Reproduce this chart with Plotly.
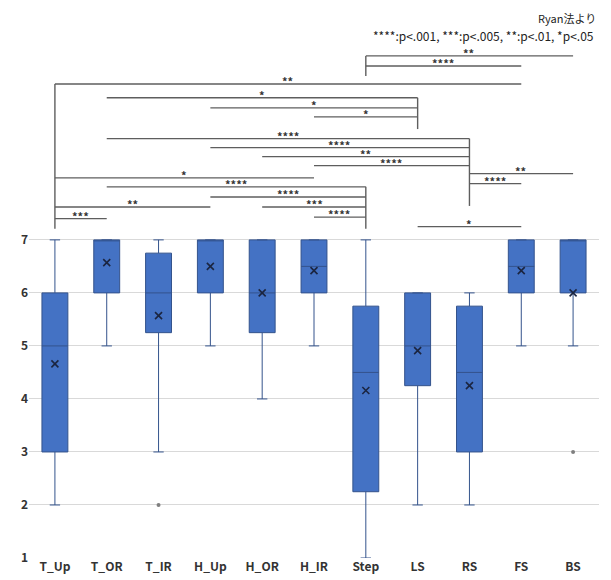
import plotly.graph_objects as go

categories = ["T_Up", "T_OR", "T_IR", "H_Up", "H_OR", "H_IR", "Step", "LS", "RS", "FS", "BS"]
q1 = [3, 6, 5.25, 6, 5.25, 6, 2.25, 4.25, 3, 6, 6]
median = [5, 7, 6, 7, 6, 6.5, 4.5, 5, 4.5, 6.5, 7]
q3 = [6, 7, 6.75, 7, 7, 7, 5.75, 6, 5.75, 7, 7]
lower = [2, 5, 3, 5, 4, 5, 1, 2, 2, 5, 5]
upper = [7, 7, 7, 7, 7, 7, 7, 6, 6, 7, 7]
mean = [4.66, 6.57, 5.57, 6.5, 6.0, 6.42, 4.16, 4.91, 4.25, 6.42, 6.0]
outlier_cat = ["T_IR", "BS"]
outlier_val = [2, 3]

# significance brackets (pairs, level in y units, label)
br_from = ["Step", "Step", "T_Up", "T_OR", "H_Up", "H_IR", "T_OR", "H_Up", "H_OR", "H_IR",
           "RS", "T_Up", "RS", "T_OR", "H_Up", "T_Up", "H_OR", "H_IR", "T_Up", "LS"]
br_to = ["BS", "FS", "FS", "LS", "LS", "LS", "RS", "RS", "RS", "RS",
         "BS", "H_IR", "FS", "Step", "Step", "H_Up", "Step", "Step", "T_OR", "FS"]
br_level = [10.47, 10.28, 9.94, 9.68, 9.49, 9.32, 8.91, 8.74, 8.57, 8.40,
            8.25, 8.17, 8.06, 8.00, 7.81, 7.62, 7.62, 7.43, 7.40, 7.25]
br_label = ["**", "****", "**", "*", "*", "*", "****", "****", "**", "****",
            "**", "*", "****", "****", "****", "**", "***", "****", "***", "*"]
stem_cat = ["T_Up", "Step", "LS", "RS", "Step"]
stem_top = [9.94, 10.47, 9.68, 8.91, 8.00]
stem_bottom = [7.21, 10.09, 9.09, 7.64, 7.21]

legend_lines = ["Ryan法より", "****:p<.001, ***:p<.005, **:p<.01, *p<.05"]

FONT = "Noto Sans CJK JP"
idx = {c: i for i, c in enumerate(categories)}

fig = go.Figure()

fig.add_trace(go.Box(
    x=categories, q1=q1, median=median, q3=q3,
    lowerfence=lower, upperfence=upper,
    boxpoints=False, width=0.5, whiskerwidth=0.4,
    fillcolor="#4472C4", line=dict(color="#34538C", width=1),
    hoverinfo="skip", showlegend=False,
))

fig.add_trace(go.Scatter(
    x=categories, y=mean, mode="markers",
    marker=dict(symbol="x-thin", size=7, line=dict(color="#1B2540", width=1.6)),
    showlegend=False, hoverinfo="skip",
))

fig.add_trace(go.Scatter(
    x=outlier_cat, y=outlier_val, mode="markers",
    marker=dict(symbol="circle", size=4, color="#7F7F7F"),
    showlegend=False, hoverinfo="skip",
))

hx, hy = [], []
for a, b, lv in zip(br_from, br_to, br_level):
    hx += [idx[a], idx[b], None]
    hy += [lv, lv, None]
for c, t, bt in zip(stem_cat, stem_top, stem_bottom):
    hx += [idx[c], idx[c], None]
    hy += [t, bt, None]

fig.add_trace(go.Scatter(
    x=hx, y=hy, mode="lines", xaxis="x2",
    line=dict(color="#5E5E5E", width=1.4),
    showlegend=False, hoverinfo="skip",
))

for a, b, lv, lab in zip(br_from, br_to, br_level, br_label):
    fig.add_annotation(
        x=(idx[a] + idx[b]) / 2, y=lv, xref="x2", yref="y",
        text=lab, showarrow=False, yanchor="bottom", yshift=-4, height=10,
        font=dict(family=FONT, size=11, color="#333333", weight="bold"),
    )

fig.add_annotation(x=1, y=1.0805, xref="paper", yref="paper", xanchor="right", yanchor="top",
                   xshift=-1, text=legend_lines[0], showarrow=False,
                   font=dict(family=FONT, size=11, color="#222222"))
fig.add_annotation(x=1, y=1.0472, xref="paper", yref="paper", xanchor="right", yanchor="top",
                   xshift=-3, text=legend_lines[1], showarrow=False,
                   font=dict(family=FONT, size=12, color="#222222"))

fig.update_layout(
    width=603, height=572,
    margin=dict(l=21, r=12, t=41, b=22),
    paper_bgcolor="white", plot_bgcolor="white",
    template="none",
    xaxis=dict(type="category", categoryorder="array", categoryarray=categories,
               range=[-0.5, 10.5], showgrid=False, zeroline=False, showline=False,
               ticks="", automargin=False,
               tickfont=dict(family=FONT, size=12, color="#333333", weight="bold")),
    xaxis2=dict(overlaying="x", range=[-0.5, 10.5], visible=False, matches=None),
    yaxis=dict(range=[1, 10.6], tickvals=[1, 2, 3, 4, 5, 6, 7], showgrid=True,
               gridcolor="#D9D9D9", gridwidth=1, zeroline=False, showline=False,
               ticks="", automargin=False,
               tickfont=dict(family=FONT, size=12, color="#333333", weight="bold")),
)

fig.write_html("out.html")
